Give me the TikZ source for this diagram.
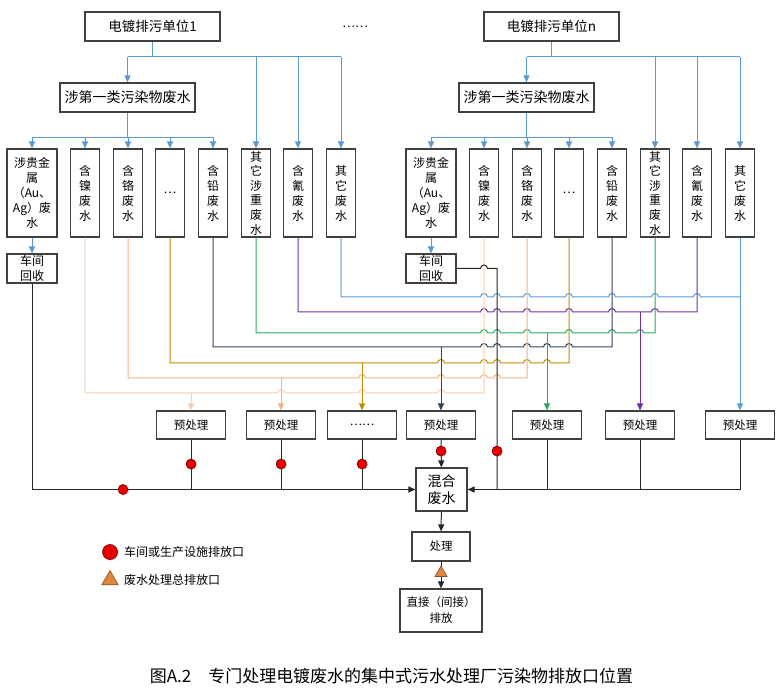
\documentclass[tikz,border=0pt]{standalone}
\usepackage{fontspec}
\setmainfont{Noto Sans CJK SC}
\usetikzlibrary{arrows.meta, positioning, calc, shapes.geometric, shadows}
\definecolor{pipeblue}{RGB}{91,155,213}
\definecolor{palepeach}{RGB}{248,206,178}
\definecolor{peach}{RGB}{244,177,131}
\definecolor{gold}{RGB}{191,144,0}
\definecolor{slate}{RGB}{50,64,96}
\definecolor{pipegreen}{RGB}{40,170,100}
\definecolor{pipepurple}{RGB}{112,48,160}
\definecolor{darkline}{RGB}{38,38,38}
\definecolor{boxline}{RGB}{64,64,64}
\definecolor{outletred}{RGB}{232,0,0}
\definecolor{ventorange}{RGB}{226,133,60}

\begin{document}
\begin{tikzpicture}[x=1pt, y=-1pt,
  box/.style={draw=boxline, line width=1.1pt, inner sep=1pt, align=center},
  unitbox/.style={box, minimum width=135pt, minimum height=29pt, font=\fontsize{13.5}{16}\selectfont},
  kindbox/.style={box, minimum width=29pt, minimum height=88pt, font=\fontsize{12}{15}\selectfont},
  smallbox/.style={box, minimum width=69pt, minimum height=28pt, font=\fontsize{11.5}{14}\selectfont},
  pipe/.style={line width=1pt},
  flow/.style={pipe, -{Triangle[length=7pt,width=6pt]}},
  outlet/.style={circle, fill=outletred, draw=red!45!black, line width=0.6pt, inner sep=0pt, minimum size=10pt,
    drop shadow={opacity=0.35, shadow xshift=1pt, shadow yshift=-1pt}},
  vent/.style={regular polygon, regular polygon sides=3, fill=ventorange, draw=ventorange!60!black,
    line width=0.6pt, inner sep=0pt, minimum size=14pt}
]
  \useasboundingbox (0,0) rectangle (782,692);

  % the two discharging units share one layout
  \foreach \un/\dx in {1/0, n/399}{
    \begin{scope}[xshift=\dx pt]
      \node[unitbox] (top\un) at (152.5,26.5) {电镀排污单位\un};
      \node[box, minimum width=135pt, minimum height=29pt, font=\fontsize{14}{16}\selectfont] (cls\un) at (127.5,97.5) {涉第一类污染物废水};
      \node[kindbox, minimum width=50pt] (\un a) at (32,193) {涉贵金\\属\\（Au、\\Ag）废\\水};
      \node[kindbox] (\un b) at (85,193) {含\\镍\\废\\水};
      \node[kindbox] (\un c) at (128,193) {含\\铬\\废\\水};
      \node[kindbox] (\un d) at (170,193) {…};
      \node[kindbox] (\un e) at (213,193) {含\\铅\\废\\水};
      \node[kindbox, font=\fontsize{12}{14.6}\selectfont] (\un f) at (256,193) {其\\它\\涉\\重\\废\\水};
      \node[kindbox] (\un g) at (298,193) {含\\氰\\废\\水};
      \node[kindbox] (\un h) at (341,193) {其\\它\\废\\水};
      \node[box, minimum width=50pt, minimum height=29pt, font=\fontsize{12}{15}\selectfont] (rec\un) at (32,268.5) {车间\\回收};
      \coordinate (hub\un) at (152.5,57);
      \coordinate (fork\un) at (127.5,137.5);
      % blue branches
      \draw[pipe, pipeblue] (top\un) -- (hub\un);
      \draw[pipe, pipeblue] (cls\un.north |- hub\un) -- (\un h.north |- hub\un);
      \foreach \k in {cls\un, \un f, \un g, \un h}
        \draw[flow, pipeblue] (\k.north |- hub\un) -- (\k.north);
      \draw[pipe, pipeblue] (cls\un) -- (fork\un);
      \draw[pipe, pipeblue] (\un a.north |- fork\un) -- (\un e.north |- fork\un);
      \foreach \k in {a,b,c,d,e}
        \draw[flow, pipeblue] (\un\k.north |- fork\un) -- (\un\k.north);
      \draw[flow, pipeblue] (\un a) -- (rec\un);
    \end{scope}
  }
  \node[font=\fontsize{12}{14}\selectfont] (more) at (355,27) {……};

  % pretreatment
  \foreach \i/\x/\t in {1/191/预处理, 2/281/预处理, 3/362/……, 4/441/预处理, 5/547/预处理, 6/640/预处理, 7/740/预处理}
    \node[smallbox] (p\i) at (\x,425) {\t};
  \node[box, minimum width=51pt, minimum height=43pt, font=\fontsize{14}{16.5}\selectfont] (mix) at (441.5,489.5) {混合\\废水};
  \node[box, minimum width=58pt, minimum height=29pt, font=\fontsize{11.5}{14}\selectfont] (treat) at (441,546.5) {处理};
  \node[box, minimum width=82pt, minimum height=43pt, font=\fontsize{11.5}{16}\selectfont] (out) at (441,610.5) {直接（间接）\\排放};

  % collecting pipes, levels
  \coordinate (lvH) at (0,297);
  \coordinate (lvG) at (0,312);
  \coordinate (lvF) at (0,333);
  \coordinate (lvE) at (0,347);
  \coordinate (lvD) at (0,363);
  \coordinate (lvC) at (0,378);
  \coordinate (lvB) at (0,393);

  % horizontals hop over the verticals
  \draw[pipe, pipeblue] (1h.south) -- (1h.south |- lvH)
    \foreach \h in {484,497,527,569,612,655,697}{ -- (\h-3.5,297) arc[start angle=180, end angle=0, radius=3.5pt] }
    -- (nh.south |- lvH);
  \draw[pipe, pipepurple] (1g.south) -- (1g.south |- lvG)
    \foreach \h in {484,497,527,569,612,655}{ -- (\h-3.5,312) arc[start angle=180, end angle=0, radius=3.5pt] }
    -- (ng.south |- lvG) -- (ng.south);
  \draw[pipe, pipegreen] (1f.south) -- (1f.south |- lvF)
    \foreach \h in {484,497,527,569,612,640}{ -- (\h-3.5,333) arc[start angle=180, end angle=0, radius=3.5pt] }
    -- (nf.south |- lvF) -- (nf.south);
  \draw[pipe, slate] (1e.south) -- (1e.south |- lvE)
    \foreach \h in {484,497,527,547,569}{ -- (\h-3.5,347) arc[start angle=180, end angle=0, radius=3.5pt] }
    -- (ne.south |- lvE) -- (ne.south);
  \draw[pipe, gold] (1d.south) -- (1d.south |- lvD)
    \foreach \h in {441,484,497,527,547}{ -- (\h-3.5,363) arc[start angle=180, end angle=0, radius=3.5pt] }
    -- (nd.south |- lvD) -- (nd.south);
  \draw[pipe, peach] (1c.south) -- (1c.south |- lvC)
    \foreach \h in {362,441,484,497}{ -- (\h-3.5,378) arc[start angle=180, end angle=0, radius=3.5pt] }
    -- (nc.south |- lvC) -- (nc.south);
  \draw[pipe, palepeach] (1b.south) -- (1b.south |- lvB)
    \foreach \h in {281,362,441}{ -- (\h-3.5,393) arc[start angle=180, end angle=0, radius=3.5pt] }
    -- (nb.south |- lvB) -- (nb.south);

  % branches down to pretreatment
  \draw[flow, palepeach] (p1.north |- lvB) -- (p1.north);
  \draw[flow, peach] (p2.north |- lvC) -- (p2.north);
  \draw[flow, gold] (p3.north |- lvD) -- (p3.north);
  \draw[flow, slate] (p4.north |- lvE) -- (p4.north);
  \draw[flow, pipegreen] (p5.north |- lvF) -- (p5.north);
  \draw[flow, pipepurple] (p6.north |- lvG) -- (p6.north);
  \draw[flow, pipeblue] (nh.south) -- (p7.north);

  % to the mixed waste water
  \coordinate (joint) at (497,268.5);
  \draw[pipe, darkline] (recn.east)
    \foreach \h in {484}{ -- (\h-3.5,268.5) arc[start angle=180, end angle=0, radius=3.5pt] }
    -- (joint) -- (joint |- mix.east);
  \draw[flow, darkline] (rec1) |- (mix.west);
  \draw[flow, darkline] (p7) |- (mix.east);
  \foreach \i in {1,2,3}
    \draw[pipe, darkline] (p\i) -- (p\i |- mix.west);
  \foreach \i in {5,6}
    \draw[pipe, darkline] (p\i) -- (p\i |- mix.east);
  \draw[flow, darkline] (p4) -- (mix);
  \draw[flow, darkline] (mix) -- (treat);
  \draw[flow, darkline] (treat) -- (out);

  % outlets
  \foreach \x/\y [count=\i] in {191/464, 281/464, 362/464, 441/451, 497/451, 123/489.5}
    \node[outlet] (dot\i) at (\x,\y) {};
  \node[vent] (ventmain) at (441,573) {};

  % key
  \node[outlet, minimum size=15pt] (keydot) at (110,552) {};
  \node[right=6pt of keydot, font=\fontsize{12}{14}\selectfont, inner sep=0pt] (keydottext) {车间或生产设施排放口};
  \node[vent, minimum size=19pt] (keyvent) at (110,580) {};
  \node[anchor=west, font=\fontsize{12}{14}\selectfont, inner sep=0pt] (keyventtext) at (keydottext.west |- keyvent) {废水处理总排放口};

  \node[font=\fontsize{17}{20}\selectfont] (caption) at (391.5,676) {图A.2\quad 专门处理电镀废水的集中式污水处理厂污染物排放口位置};
\end{tikzpicture}
\end{document}
